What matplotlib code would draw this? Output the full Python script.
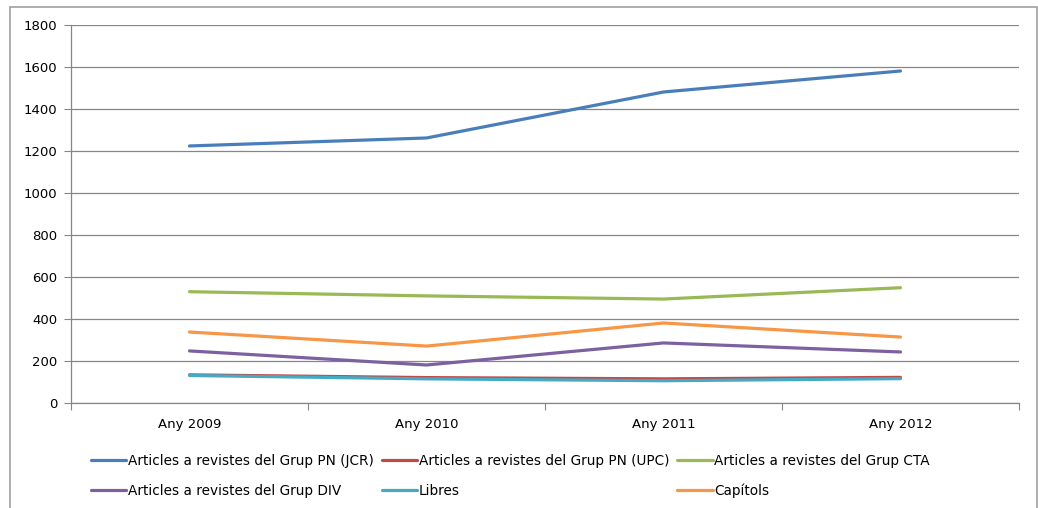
import numpy as np
import matplotlib.pyplot as plt
from matplotlib.patches import Rectangle

years = ["Any 2009", "Any 2010", "Any 2011", "Any 2012"]

jcr = [1224, 1262, 1481, 1581]
upc = [134, 121, 115, 122]
cta = [530, 510, 495, 549]
div = [248, 181, 286, 243]
libres = [131, 115, 106, 116]
capitols = [338, 271, 381, 314]

series = [
    ("Articles a revistes del Grup PN (JCR)", jcr, '#4A7EBB'),
    ("Articles a revistes del Grup PN (UPC)", upc, '#BE4B48'),
    ("Articles a revistes del Grup CTA", cta, '#98B954'),
    ("Articles a revistes del Grup DIV", div, '#7D60A0'),
    ("Libres", libres, '#46AAC5'),
    ("Capítols", capitols, '#F79646'),
]

plt.rcParams['font.family'] = ['DejaVu Sans']

fig = plt.figure(figsize=(10.38, 5.08), dpi=100)
ax = fig.add_axes([71/1038, 105/508, 948/1038, 378/508])

x = np.arange(len(years))
handles = []
for label, vals, col in series:
    ln, = ax.plot(x, vals, color=col, lw=2.3, label=label, solid_capstyle='round')
    handles.append(ln)

ax.set_ylim(0, 1800)
ax.set_yticks(np.arange(0, 1801, 200))
ax.set_xlim(-0.5, 3.5)
ax.set_xticks(np.arange(-0.5, 3.6, 1))
ax.set_xticklabels([])
ax.set_xticks(x, minor=True)
ax.set_xticklabels(years, minor=True)
ax.tick_params(axis='x', which='minor', length=0, pad=11, labelsize=9.5)
ax.tick_params(axis='x', which='major', length=5, color='#868686')
ax.tick_params(axis='y', length=5, color='#868686', labelsize=9.5, pad=5)

ax.grid(axis='y', color='#868686', lw=0.9)
ax.set_axisbelow(True)
for s in ['top', 'right']:
    ax.spines[s].set_visible(False)
for s in ['left', 'bottom']:
    ax.spines[s].set_color('#868686')
    ax.spines[s].set_linewidth(0.9)

# legend is filled row by row in the reference
order = [0, 3, 1, 4, 2, 5]
leg = fig.legend([handles[i] for i in order], [series[i][0] for i in order],
                 loc='upper left', bbox_to_anchor=(91/1038, 1 - 454/508), ncol=3,
                 frameon=False, fontsize=9.8, handlelength=2.6, handletextpad=0.1,
                 columnspacing=0.6, labelspacing=1.15, borderaxespad=0, borderpad=0)
for h in leg.get_lines():
    h.set_linewidth(2.3)

fig.patches.append(Rectangle((10/1038, -0.05), 1027/1038, 1.05 - 7/508,
                             transform=fig.transFigure, fill=False,
                             edgecolor='#A0A0A0', lw=1.2))

fig.savefig("out.png", dpi=100)
